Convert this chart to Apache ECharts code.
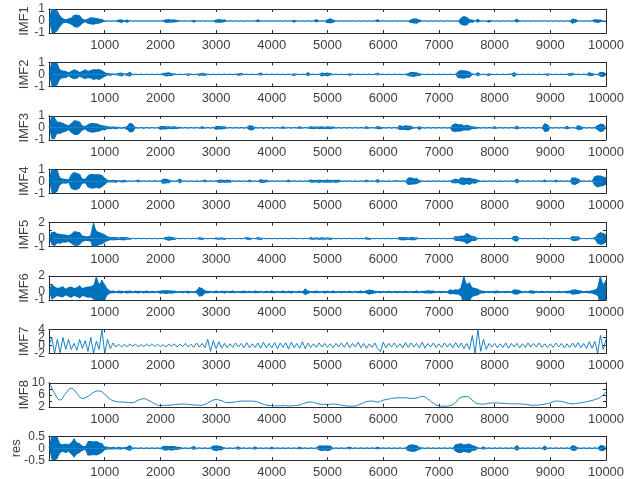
<!DOCTYPE html>
<html>
<head>
<meta charset="utf-8">
<script src="https://cdn.jsdelivr.net/npm/echarts@6/dist/echarts.min.js"></script>
<style>
  html, body { margin: 0; padding: 0; background: #fff; }
  #chart { width: 624px; height: 479px; }
</style>
</head>
<body>
<div id="chart"></div>
<script>
// panel names, top to bottom
const names = ['IMF1', 'IMF2', 'IMF3', 'IMF4', 'IMF5', 'IMF6', 'IMF7', 'IMF8', 'res'];

// x ticks shared by every panel
const xTicks = [1000, 2000, 3000, 4000, 5000, 6000, 7000, 8000, 9000, 10000];

// y tick labels per panel (shown ones)
const yLabels = [
    [-1, 0, 1], [-1, 0, 1], [-1, 0, 1], [-1, 0, 1],
    [-1, 0, 2], [-1, 0, 2], [-2, 0, 2, 4], [2, 6, 10], [-0.5, 0, 0.5]
];

// values, one sample every 50 samples (IMF8 every 100)
const imf1 = [
    0, 1, -1, 0.85, -0.45, 0.2, -0.15, 0.2, -0.3, 0.5, -0.55, 0.45, -0.2, 0.1, -0.2, 0.3, -0.3, 0.25, -0.2, 0.15,
    -0.05, 0.03, -0.03, 0.02, -0.03, 0.1, -0.15, 0.05, -0.12, 0.03, -0.02, 0.02, -0.02, 0.02, -0.02, 0.02, -0.02, 0.02, -0.02, 0.02,
    -0.02, 0.05, -0.15, 0.15, -0.12, 0.12, -0.08, 0.03, -0.02, 0.02, -0.02, 0.02, -0.1, 0.02, -0.02, 0.02, -0.02, 0.02, -0.02, 0.02,
    -0.12, 0.15, -0.12, 0.1, -0.03, 0.02, -0.02, 0.02, -0.02, 0.02, -0.02, 0.02, -0.02, 0.02, -0.02, 0.1, -0.02, 0.02, -0.02, 0.02,
    -0.02, 0.02, -0.02, 0.02, -0.02, 0.02, -0.02, 0.02, -0.1, 0.02, -0.02, 0.02, -0.02, 0.02, -0.02, 0.02, 0.12, -0.02, 0.02, -0.02,
    -0.15, 0.2, -0.12, 0.03, -0.02, 0.02, -0.02, 0.02, -0.02, 0.02, -0.02, 0.02, -0.02, 0.02, -0.02, 0.02, -0.02, 0.02, 0.1, -0.02,
    0.02, -0.02, 0.02, -0.02, 0.02, -0.02, 0.02, -0.02, 0.02, -0.02, -0.15, 0.2, -0.2, 0.1, -0.02, 0.02, -0.02, 0.02, -0.02, 0.02,
    -0.02, 0.02, -0.02, 0.02, -0.02, 0.02, -0.02, 0.02, -0.3, 0.4, -0.35, 0.15, -0.12, 0.02, 0.15, -0.02, 0.02, -0.02, -0.1, 0.02,
    -0.02, 0.02, -0.02, 0.02, -0.02, 0.02, -0.02, 0.02, 0.15, -0.02, 0.02, -0.02, 0.02, -0.02, 0.02, -0.02, 0.02, -0.02, 0.02, -0.02,
    0.02, -0.02, 0.02, -0.02, 0.02, -0.02, 0.02, -0.02, -0.2, 0.15, -0.02, 0.02, -0.02, 0.02, -0.02, 0.02, 0.12, -0.15, 0.1, -0.02,
    0
];
const imf2 = [
    0, 1, -1, 0.9, -0.4, 0.3, -0.3, 0.15, -0.3, 0.4, -0.35, 0.2, -0.3, 0.4, -0.3, 0.35, -0.45, 0.4, -0.45, 0.35,
    -0.2, 0.1, -0.1, 0.05, -0.05, 0.12, -0.15, 0.05, -0.1, 0.2, -0.03, 0.03, -0.03, 0.03, -0.03, 0.03, -0.03, 0.03, -0.03, 0.03,
    -0.03, 0.1, -0.15, 0.15, -0.12, 0.05, -0.03, 0.03, -0.03, 0.03, -0.1, 0.03, -0.03, 0.03, -0.1, 0.12, -0.1, 0.03, -0.03, 0.03,
    -0.03, 0.03, -0.03, 0.03, -0.03, 0.03, -0.03, 0.03, -0.1, 0.1, -0.03, 0.03, -0.03, 0.03, -0.03, 0.03, 0.12, -0.03, 0.03, -0.03,
    0.03, -0.03, 0.03, -0.03, 0.03, -0.03, 0.03, -0.03, -0.1, 0.03, -0.03, 0.03, -0.03, 0.15, -0.03, 0.03, -0.03, 0.03, -0.15, 0.12,
    -0.15, 0.1, -0.03, 0.03, -0.03, 0.03, -0.03, 0.03, -0.1, 0.03, -0.03, 0.03, -0.03, 0.03, -0.03, 0.03, -0.03, 0.03, 0.1, -0.03,
    0.03, -0.03, 0.03, -0.03, 0.03, -0.03, 0.03, -0.03, 0.03, -0.12, 0.2, -0.2, 0.15, -0.1, 0.03, -0.03, 0.03, -0.03, 0.03, -0.03,
    0.03, -0.03, 0.03, -0.03, 0.03, -0.03, 0.03, -0.3, 0.35, -0.35, 0.3, -0.25, 0.05, -0.03, 0.15, -0.03, 0.03, -0.03, -0.1, 0.03,
    -0.03, 0.03, -0.03, 0.03, -0.03, 0.03, 0.03, -0.2, 0.03, -0.03, 0.03, -0.03, 0.03, -0.03, 0.03, -0.03, 0.03, -0.03, 0.03, -0.1,
    0.03, -0.03, 0.03, -0.03, 0.03, -0.03, 0.03, -0.12, 0.1, -0.03, 0.03, -0.03, 0.03, -0.03, 0.15, -0.12, 0.03, -0.03, 0.2, -0.2,
    0.1
];
const imf3 = [
    0, 1, -0.9, 0.5, -0.5, 0.4, -0.3, 0.2, -0.4, 0.6, -0.6, 0.5, -0.2, 0.15, -0.3, 0.4, -0.4, 0.35, -0.3, 0.2,
    -0.2, 0.1, -0.1, 0.08, -0.1, 0.05, -0.05, 0.05, -0.15, 0.4, -0.35, 0.05, -0.03, 0.03, -0.05, 0.03, -0.03, 0.03, -0.03, 0.03,
    -0.15, 0.15, -0.12, 0.1, -0.1, 0.1, -0.08, 0.05, -0.03, 0.03, -0.03, 0.03, -0.03, 0.03, -0.03, 0.1, -0.03, 0.03, -0.03, 0.03,
    -0.15, 0.15, -0.12, 0.1, -0.03, 0.03, -0.03, 0.03, -0.03, 0.03, -0.03, 0.03, 0.2, -0.2, 0.05, -0.03, 0.03, -0.05, 0.03, -0.03,
    0.03, -0.03, 0.03, -0.03, 0.1, -0.03, 0.03, -0.03, 0.03, -0.03, 0.1, -0.03, 0.03, -0.03, 0.1, -0.1, 0.08, -0.1, 0.1, -0.08,
    0.1, -0.1, 0.08, -0.03, 0.03, -0.03, 0.03, -0.03, 0.03, -0.03, 0.03, -0.03, 0.03, -0.03, 0.1, -0.03, 0.03, -0.03, 0.12, -0.1,
    0.03, -0.03, 0.03, -0.03, 0.03, -0.03, 0.2, -0.15, 0.2, -0.2, 0.15, -0.03, 0.03, -0.15, 0.03, -0.03, 0.03, -0.03, 0.03, -0.03,
    0.03, -0.03, 0.03, -0.03, 0.03, -0.3, 0.35, -0.3, 0.3, -0.2, 0.25, -0.2, 0.1, -0.1, 0.05, -0.03, 0.03, -0.03, 0.03, -0.03,
    0.1, -0.03, 0.03, -0.03, 0.03, -0.03, 0.03, -0.03, 0.15, -0.03, 0.03, -0.03, 0.03, -0.03, 0.03, -0.03, 0.03, -0.03, 0.35, -0.3,
    0.03, -0.03, 0.03, -0.03, 0.03, -0.03, 0.15, -0.03, 0.03, -0.03, 0.2, -0.15, 0.03, -0.03, 0.03, -0.03, 0.03, 0.2, -0.35, 0.3,
    0
];
const imf4 = [
    0, 1, -1, 0.9, -0.3, 0.2, -0.2, 0.15, -0.6, 0.75, -0.7, 0.6, -0.2, 0.2, -0.5, 0.6, -0.6, 0.55, -0.6, 0.5,
    -0.3, 0.1, -0.08, 0.1, -0.1, 0.05, -0.08, 0.1, -0.03, 0.03, -0.03, 0.03, 0.1, -0.03, 0.03, -0.03, 0.03, -0.03, 0.05, -0.03,
    0.03, -0.2, 0.2, -0.15, 0.03, -0.03, 0.03, 0.2, -0.03, 0.03, -0.03, 0.03, -0.03, 0.03, -0.03, 0.03, 0.1, -0.03, 0.03, -0.03,
    0.03, -0.12, 0.12, -0.1, 0.12, -0.1, 0.03, -0.03, 0.03, -0.03, 0.03, -0.03, 0.1, -0.03, 0.03, -0.03, 0.15, -0.12, 0.1, -0.03,
    0.03, -0.03, 0.03, -0.03, 0.03, -0.03, 0.1, -0.03, 0.03, -0.03, 0.03, -0.03, 0.03, -0.03, 0.12, -0.1, 0.1, -0.12, 0.1, -0.1,
    0.12, -0.1, 0.1, -0.12, 0.1, -0.03, 0.03, -0.03, 0.03, -0.03, 0.03, -0.03, 0.03, -0.03, 0.1, -0.03, 0.03, -0.03, 0.15, -0.03,
    0.03, -0.03, 0.03, -0.03, 0.03, 0.05, -0.03, 0.03, -0.03, -0.3, 0.3, -0.25, 0.25, -0.1, 0.03, -0.03, 0.03, -0.03, 0.03, -0.03,
    0.03, -0.03, 0.03, -0.03, 0.03, -0.15, 0.2, -0.15, 0.3, -0.3, 0.25, -0.3, 0.2, -0.2, 0.1, -0.03, 0.03, -0.03, 0.03, -0.03,
    0.03, -0.03, 0.03, -0.03, 0.03, -0.03, 0.03, -0.03, 0.2, -0.03, 0.03, -0.03, 0.03, -0.03, 0.03, -0.03, 0.03, -0.03, 0.1, -0.03,
    0.03, -0.03, 0.1, -0.03, 0.03, -0.03, 0.03, -0.03, 0.3, -0.3, 0.2, -0.03, 0.03, -0.03, 0.03, -0.03, 0.4, -0.5, 0.45, -0.4,
    0.3
];
const imf5 = [
    0, 0.8, -0.9, 0.6, -0.6, 0.5, -0.5, 0.4, -0.6, 0.9, -0.9, 0.8, -0.4, 0.3, -0.3, 0.4, 2, -1, 0.8, -0.7,
    0.5, -0.3, 0.2, -0.2, 0.2, -0.15, 0.2, -0.2, 0.15, -0.1, 0.05, -0.03, 0.03, -0.03, 0.03, -0.03, 0.03, -0.03, 0.03, -0.03,
    0.03, -0.03, 0.2, -0.25, 0.2, -0.15, 0.03, -0.03, 0.03, -0.03, 0.03, -0.03, 0.03, -0.03, 0.15, -0.15, 0.03, -0.03, 0.03, -0.03,
    0.1, -0.1, 0.1, -0.1, 0.03, -0.03, 0.03, -0.03, 0.03, -0.03, 0.03, 0.15, -0.15, 0.03, -0.03, 0.15, -0.15, 0.03, -0.03, 0.03,
    -0.03, 0.03, -0.03, 0.03, -0.03, 0.03, -0.03, 0.03, 0.05, -0.03, 0.03, -0.03, 0.03, -0.03, 0.15, -0.1, 0.12, -0.1, 0.15, -0.1,
    0.1, -0.15, 0.03, -0.03, 0.03, -0.03, 0.03, -0.03, 0.03, -0.03, 0.03, -0.03, 0.03, -0.03, 0.15, -0.12, 0.03, -0.03, 0.03, -0.03,
    0.03, -0.03, 0.03, -0.03, 0.03, -0.03, 0.2, -0.2, 0.2, -0.15, 0.2, -0.2, 0.1, -0.03, 0.03, -0.03, 0.03, -0.03, 0.03, -0.03,
    0.03, -0.03, 0.03, -0.03, 0.03, -0.03, 0.3, -0.3, 0.35, -0.4, 0.7, -0.5, 0.3, -0.3, 0.05, -0.03, 0.03, -0.03, 0.03, -0.03,
    0.03, -0.03, 0.03, -0.03, 0.03, -0.03, 0.03, 0.3, -0.35, 0.03, -0.03, 0.03, -0.03, 0.03, -0.03, 0.03, -0.03, 0.03, 0.05, -0.05,
    0.03, -0.03, 0.03, -0.03, 0.03, -0.03, 0.03, -0.03, 0.3, -0.3, 0.25, -0.03, 0.03, -0.03, 0.03, -0.03, 0.15, -0.6, 0.8, -0.7,
    0.5
];
const imf6 = [
    0, 1, -0.7, 0.5, -0.6, 0.7, -0.4, 0.6, -0.7, 0.5, -0.6, 0.8, -0.5, 0.6, -0.7, 0.7, -0.9, 2, -1, 1.5,
    -1, 0.4, -0.15, 0.15, -0.1, 0.15, -0.15, 0.1, -0.15, 0.15, -0.1, 0.12, -0.15, 0.1, -0.12, 0.15, -0.1, 0.12, -0.1, 0.1,
    -0.2, 0.2, -0.25, 0.2, -0.2, 0.15, -0.1, 0.1, -0.12, 0.1, -0.15, 0.1, -0.1, 0.15, 0.6, -0.5, 0.2, -0.15, 0.1, -0.1,
    0.15, -0.1, 0.12, -0.15, 0.1, -0.12, 0.15, -0.1, 0.1, -0.12, 0.15, -0.1, 0.12, -0.1, 0.15, -0.12, 0.1, -0.1, 0.12, -0.1,
    0.15, -0.12, 0.1, -0.1, 0.15, -0.1, 0.12, -0.15, 0.1, -0.1, 0.12, -0.1, 0.4, -0.2, 0.1, -0.12, 0.15, -0.1, 0.1, -0.15,
    0.12, -0.1, 0.15, -0.1, 0.1, -0.12, 0.1, -0.1, 0.12, -0.1, 0.1, -0.12, 0.15, -0.1, 0.2, -0.3, 0.25, -0.15, 0.1, -0.12,
    0.1, -0.1, 0.12, -0.1, 0.1, -0.12, 0.1, -0.1, 0.12, -0.1, 0.1, -0.12, 0.15, -0.1, 0.12, -0.15, 0.2, -0.2, 0.15, -0.1,
    0.1, -0.12, 0.1, -0.1, 0.3, -0.25, 0.3, -0.3, 0.6, 2, -1, 1.2, -0.6, 0.5, -0.4, 0.2, -0.15, 0.1, -0.12, 0.1,
    -0.15, 0.15, -0.1, 0.1, -0.12, 0.1, -0.1, 0.3, -0.3, 0.2, -0.1, 0.1, -0.1, 0.2, -0.2, 0.1, -0.1, 0.12, -0.1, 0.1,
    -0.12, 0.1, -0.1, 0.12, -0.1, 0.1, -0.15, 0.15, -0.3, 0.3, -0.25, 0.15, -0.1, 0.12, -0.15, 0.2, -0.3, 0.5, 2, -1,
    1.5
];
const imf7 = [
    0, 2, -2, 1.5, -1.8, 2, -1, 1.5, -1, 0.5, -1.2, 1.5, -0.8, 1.2, -1.5, 2, -2, 1, -1, 4,
    -2, 1.5, -0.8, 0.6, -0.4, 0.3, -0.4, 0.2, -0.3, 0.3, -0.2, 0.3, -0.3, 0.2, -0.3, 0.3, -0.2, 0.4, -0.3, 0.3,
    -0.3, 0.2, -0.4, 0.3, -0.2, 0.4, -0.4, 0.3, -0.3, 0.5, -0.4, 0.3, -0.5, 0.6, -0.4, 0.5, -0.6, 1.5, -1.5, 1.2,
    -0.8, 0.9, -0.7, 0.5, -0.6, 0.4, -0.5, 0.6, -0.4, 0.5, -0.6, 0.7, -0.6, 0.4, -0.5, 0.6, -0.7, 0.8, -0.6, 0.5,
    -0.6, 0.7, -0.8, 0.6, -0.5, 0.7, -0.9, 0.8, -0.6, 0.5, -0.7, 0.9, -0.8, 0.6, -0.5, 0.4, -0.5, 0.6, -0.4, 0.5,
    -0.5, 0.4, -0.6, 0.5, -0.4, 0.6, -0.5, 0.7, -0.6, 0.5, -0.4, 0.8, -0.6, 0.5, -0.7, 0.4, -0.5, 0.6, -0.8, -1.6,
    0.8, -0.6, 0.5, -0.4, 0.6, -0.5, 0.4, -0.6, 0.7, -0.5, 0.6, -0.4, 0.5, -0.6, 0.8, -0.7, 0.5, -0.4, 0.6, -0.5,
    0.4, -0.5, 0.6, -0.4, 0.5, -0.6, 0.7, -0.5, 0.6, -0.8, 0.5, -1, 2.5, -2, 4, -1.5, 1.5, -1, 0.5, -0.4,
    0.5, -0.6, 0.4, -0.5, 0.6, -0.7, 0.5, -0.4, 0.5, -0.6, 0.4, -0.5, 0.6, -0.4, 0.5, -0.4, 0.6, -0.5, 0.4, -0.5,
    0.4, -0.5, 0.6, -0.4, 0.5, -0.6, 0.4, -0.5, 0.6, -0.5, 0.7, -0.6, 0.5, -0.8, 0.9, -0.7, 1, -2, 2.5, -1,
    1.5
];
const imf8 = [
    10.5, 6.5, 4.3, 6.5, 8.2, 6.5, 4.8, 5.5, 6.8, 7.3,
    6.2, 4.5, 3.8, 3.6, 3.5, 3.4, 4.2, 4.7, 4.0, 3.0,
    2.4, 2.5, 2.6, 2.8, 2.9, 2.8, 2.6, 2.5, 2.8, 3.8,
    4.4, 4.0, 3.4, 3.5, 3.8, 3.9, 3.9, 3.8, 3.2, 2.6,
    2.4, 2.3, 2.4, 2.3, 2.4, 2.6, 3.3, 3.6, 3.2, 2.8,
    2.8, 2.9, 2.7, 2.4, 2.2, 2.3, 3.0, 3.7, 3.9, 3.6,
    4.2, 4.6, 4.9, 5.0, 5.0, 4.8, 4.9, 5.5, 4.6, 3.2,
    2.3, 2.2, 2.4, 3.5, 5.2, 5.4, 4.2, 3.0, 2.9, 3.2,
    3.3, 3.2, 3.1, 3.0, 3.0, 2.9, 2.7, 2.5, 2.6, 2.9,
    3.3, 3.9, 3.8, 3.3, 3.0, 3.2, 3.5, 3.9, 4.4, 5.2,
    7.0
];
const res = [
    0, 0.5, -0.5, 0.45, -0.2, 0.15, -0.2, 0.15, -0.25, 0.4, -0.25, 0.2, -0.1, 0.08, -0.3, 0.3, -0.28, 0.3, -0.25, 0.2,
    -0.08, 0.05, -0.04, 0.05, -0.03, 0.05, -0.04, 0.03, -0.06, 0.12, -0.03, 0.02, -0.02, 0.02, -0.02, 0.02, -0.02, 0.02, -0.02, 0.02,
    -0.02, 0.08, -0.1, 0.08, -0.1, 0.08, -0.06, 0.05, -0.02, 0.02, -0.02, 0.02, 0.08, -0.02, 0.02, -0.02, 0.02, -0.02, 0.02, 0.1,
    -0.12, 0.1, -0.08, 0.02, -0.02, 0.02, -0.02, 0.02, 0.06, -0.02, 0.02, -0.02, 0.02, -0.02, 0.06, -0.02, 0.02, -0.02, 0.02, -0.02,
    0.05, -0.02, 0.02, -0.02, 0.02, -0.02, 0.02, -0.02, 0.02, -0.02, 0.05, -0.02, 0.02, -0.02, 0.02, -0.02, 0.02, 0.1, -0.12, 0.1,
    -0.12, 0.1, -0.02, 0.02, -0.02, 0.02, -0.02, 0.02, 0.05, -0.02, 0.02, -0.02, 0.02, -0.02, 0.02, -0.02, 0.02, -0.02, 0.05, -0.02,
    0.02, -0.02, 0.02, -0.02, 0.02, -0.02, 0.02, -0.02, 0.02, -0.12, 0.15, -0.15, 0.12, -0.05, 0.02, -0.02, 0.02, -0.02, 0.02, -0.02,
    0.02, -0.02, 0.02, -0.02, 0.02, -0.02, 0.15, -0.2, 0.2, -0.15, 0.18, -0.2, 0.12, -0.1, 0.02, -0.02, 0.06, -0.02, 0.02, -0.02,
    0.02, -0.02, 0.02, -0.02, 0.02, -0.02, 0.02, -0.02, 0.12, -0.02, 0.02, -0.02, 0.02, -0.02, 0.02, -0.02, 0.02, -0.02, 0.1, -0.02,
    0.02, -0.02, 0.02, -0.02, 0.02, -0.02, 0.02, -0.02, 0.12, -0.1, 0.02, -0.02, 0.02, -0.02, 0.02, -0.02, 0.02, -0.02, 0.12, -0.12,
    0.05
];

const signals = [imf1, imf2, imf3, imf4, imf5, imf6, imf7, imf8, res];

// axis ranges, sample spacing, and whether the dense oscillation is drawn as a filled band
const panels = [
    { min: -1, max: 1, interval: 1, step: 50, band: true },
    { min: -1, max: 1, interval: 1, step: 50, band: true },
    { min: -1, max: 1, interval: 1, step: 50, band: true },
    { min: -1, max: 1, interval: 1, step: 50, band: true },
    { min: -1, max: 2, interval: 1, step: 50, band: true },
    { min: -1, max: 2, interval: 1, step: 50, band: true },
    { min: -2, max: 4, interval: 2, step: 50, band: false },
    { min: 2, max: 10, interval: 2, step: 100, band: false },
    { min: -0.5, max: 0.5, interval: 0.5, step: 50, band: true }
];

const font = "'Liberation Sans', Arial, Helvetica, sans-serif";
const frame = '#2b2b2b';
const textColor = '#404040';
const lineColor = '#0072BD';

const grid = [], xAxis = [], yAxis = [], series = [];

panels.forEach((p, k) => {
    const top = 9 + k * 53.4;
    grid.push({ left: 49, right: 18, top: top, height: 24, outerBoundsMode: 'none' });

    const xBase = {
        gridIndex: k, type: 'value', min: 0, max: 10000, interval: 1000,
        axisLine: { show: true, onZero: false, lineStyle: { color: frame, width: 1 } },
        axisTick: { show: true, inside: true, length: 3, lineStyle: { color: frame } },
        splitLine: { show: false }
    };
    xAxis.push(Object.assign({}, xBase, {
        position: 'bottom',
        axisLabel: {
            show: true, margin: 6, fontSize: 13, color: textColor, fontFamily: font,
            formatter: v => (xTicks.indexOf(v) >= 0 ? String(v) : '')
        }
    }));
    xAxis.push(Object.assign({}, xBase, { position: 'top', axisLabel: { show: false } }));

    const yBase = {
        gridIndex: k, type: 'value', min: p.min, max: p.max, interval: p.interval,
        axisLine: { show: true, onZero: false, lineStyle: { color: frame, width: 1 } },
        axisTick: { show: true, inside: true, length: 3, lineStyle: { color: frame } },
        splitLine: { show: false }
    };
    // left frame with ticks and the panel name
    yAxis.push(Object.assign({}, yBase, {
        position: 'left',
        name: names[k], nameLocation: 'middle', nameGap: k === 8 ? 26 : 18, nameRotate: 90,
        nameMoveOverlap: false,
        nameTextStyle: { fontSize: 13, color: textColor, fontFamily: font },
        axisLabel: { show: false }
    }));
    yAxis.push(Object.assign({}, yBase, { position: 'right', axisLabel: { show: false } }));
    // the crowded tick labels, split over two label-only axes so none of them gets dropped
    [0, 1].forEach(part => {
        yAxis.push({
            gridIndex: k, type: 'value', min: p.min, max: p.max, interval: p.interval,
            position: 'left',
            axisLine: { show: false }, axisTick: { show: false }, splitLine: { show: false },
            axisLabel: {
                show: true, margin: 4, fontSize: 12, color: textColor, fontFamily: font,
                showMinLabel: true, showMaxLabel: true, hideOverlap: false,
                customValues: yLabels[k].filter((v, i) => i % 2 === part)
            }
        });
    });

    const yIdx = 4 * k;
    const sig = signals[k];
    if (p.band) {
        // the burst envelope, so dense oscillation reads as a solid blob like the 1px MATLAB trace
        [1, -1].forEach(sgn => {
            series.push({
                type: 'line',
                xAxisIndex: 2 * k, yAxisIndex: yIdx,
                data: sig.map((v, i) => [i * p.step, sgn * Math.abs(v)]),
                showSymbol: false, symbol: 'none', clip: true,
                lineStyle: { width: 0 },
                areaStyle: { color: lineColor, opacity: 1, origin: 0 },
                animation: false, silent: true
            });
        });
    }
    series.push({
        type: 'line',
        xAxisIndex: 2 * k, yAxisIndex: yIdx,
        data: sig.map((v, i) => [i * p.step, v]),
        showSymbol: false, symbol: 'none', clip: true,
        smooth: k === 7,
        lineStyle: { color: lineColor, width: k >= 6 ? 0.9 : 1 },
        animation: false
    });
});

const chart = echarts.init(document.getElementById('chart'), null, { renderer: 'canvas' });
chart.setOption({
    backgroundColor: '#ffffff',
    animation: false,
    grid, xAxis, yAxis, series
});
</script>
</body>
</html>
